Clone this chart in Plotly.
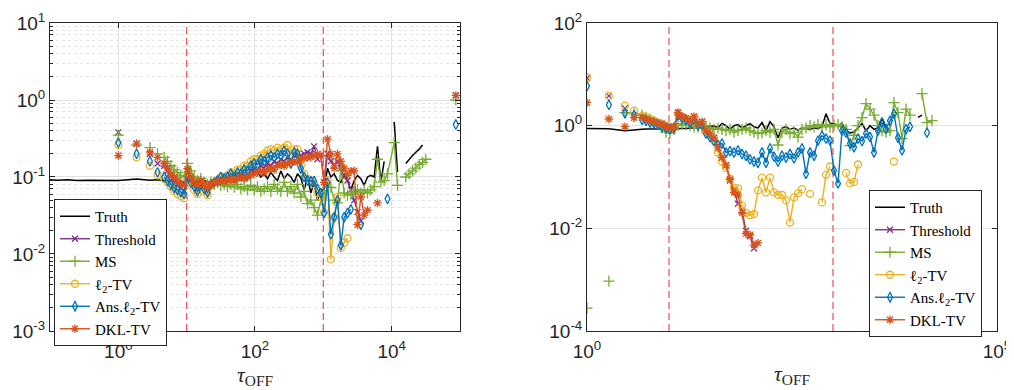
import plotly.graph_objects as go

_ = None

# shared tau_OFF sample positions
X = [1, 1.85, 2.9, 3.75, 4.69, 5.24, 5.87, 6.56, 7.34, 8.21,
     9.19, 10.28, 11.5, 12.88, 14.4, 16.1, 18.0, 20.2, 22.6, 25.3,
     28.3, 31.6, 35.4, 39.6, 44.3, 49.6, 55.4, 62.0, 69.4, 77.7,
     86.9, 97.2, 108.8, 121.7, 136.2, 152.4, 170.5, 190.8, 213.5, 238.8,
     267.3, 299, 334.6, 374.4, 418.8, 468.6, 524.3, 586.7, 656.4, 734.5,
     821.5, 919.2, 1028, 1151, 1288, 1441, 1612, 1804, 2018, 2258,
     2526, 2827, 3162, 3538, 3959, 4430, 4956, 5545, 6204, 6942,
     7767, 8690, 10890, 12170, 14000, 16110, 18000, 20200, 22600, 25300,
     28300, 31600, 86900]

# ---------------- left panel ----------------
TRUTH_PRE_X = [0.1, 0.13, 0.18, 0.25, 0.35, 0.5, 0.7]
TRUTH_PRE_L = [0.092, 0.091, 0.092, 0.09, 0.091, 0.09, 0.089]
TRUTH_L = [0.09, 0.094, 0.091, 0.092, 0.09, 0.088, 0.089, 0.087, 0.088, 0.086,
           0.085, 0.087, 0.09, 0.088, 0.087, 0.089, 0.09, 0.086, 0.085, 0.088,
           0.09, 0.092, 0.095, 0.1, 0.098, 0.105, 0.1, 0.11, 0.105, 0.095,
           0.1, 0.12, 0.115, 0.1, 0.11, 0.095, 0.115, 0.1, 0.09, 0.12,
           0.095, 0.11, 0.1, 0.085, 0.11, 0.097, 0.068, 0.1, 0.062, 0.085,
           0.05, 0.065, 0.07, 0.13, 0.1, 0.11, 0.09, 0.085, 0.11, 0.09,
           0.068, 0.09, 0.105, 0.095, 0.078, 0.1, 0.105, 0.1, 0.25, 0.085,
           0.16, _, 0.52, 0.116, _, 0.15, 0.17, 0.19, 0.21, 0.23,
           0.26, _, _]
THR_L = [0.38, 0.27, 0.2, 0.15, 0.14, 0.12, 0.1, 0.09, 0.08, 0.072,
         0.065, 0.12, 0.09, 0.08, 0.07, 0.085, 0.075, 0.068, 0.08, 0.085,
         0.09, 0.092, 0.095, 0.09, 0.1, 0.095, 0.1, 0.105, 0.1, 0.11,
         0.12, 0.125, 0.12, 0.14, 0.13, 0.15, 0.14, 0.16, 0.15, 0.17,
         0.16, 0.18, 0.17, 0.19, 0.2, 0.19, 0.2, 0.21, 0.2, 0.25,
         0.17, 0.19, 0.086, 0.2, 0.16, 0.14, 0.16, 0.13, 0.1, 0.09,
         0.068, 0.05, 0.035, 0.027, _, _, _, _, _, _,
         _, _, _, _, _, _, _, _, _, _,
         _, _, 1.15]
MS_L = [0.35, 0.26, 0.24, 0.2, 0.18, 0.16, 0.14, 0.125, 0.115, 0.105,
        0.1, 0.15, 0.12, 0.1, 0.09, 0.095, 0.085, 0.08, 0.085, 0.08,
        0.085, 0.078, 0.08, 0.075, 0.08, 0.074, 0.08, 0.07, 0.075, 0.068,
        0.078, 0.068, 0.075, 0.065, 0.07, 0.075, 0.065, 0.08, 0.07, 0.065,
        0.085, 0.065, 0.075, 0.062, 0.08, 0.055, 0.065, 0.045, 0.05, 0.04,
        0.032, 0.05, 0.06, 0.074, 0.073, 0.05, 0.046, 0.13, 0.062, 0.058,
        0.06, 0.065, 0.068, 0.062, 0.068, 0.062, 0.068, 0.075, 0.17, 0.086,
        0.09, 0.11, 0.28, 0.078, _, 0.1, 0.11, 0.12, 0.13, 0.145,
        0.155, 0.17, 1.0]
L2_L = [0.26, 0.18, 0.14, 0.105, 0.095, 0.085, 0.075, 0.066, 0.06, 0.056,
        0.053, 0.095, 0.08, 0.068, 0.06, 0.075, 0.065, 0.058, 0.078, 0.085,
        0.09, 0.1, 0.1, 0.105, 0.115, 0.11, 0.125, 0.125, 0.14, 0.14,
        0.16, 0.17, 0.17, 0.19, 0.2, 0.22, 0.23, 0.22, 0.24, 0.23,
        0.24, 0.26, 0.2, 0.23, 0.23, 0.14, 0.11, 0.095, 0.09, 0.08,
        0.062, 0.055, 0.035, 0.09, 0.0085, 0.03, 0.055, 0.012, 0.014, 0.016,
        _, _, _, _, _, _, _, _, _, _,
        _, _, _, _, _, _, _, _, _, _,
        _, _, _]
ANS_L = [0.28, 0.2, 0.16, 0.115, 0.1, 0.09, 0.08, 0.072, 0.068, 0.064,
         0.06, 0.1, 0.085, 0.075, 0.065, 0.08, 0.07, 0.063, 0.08, 0.085,
         0.09, 0.1, 0.095, 0.1, 0.11, 0.1, 0.115, 0.11, 0.125, 0.12,
         0.14, 0.15, 0.145, 0.17, 0.16, 0.18, 0.19, 0.18, 0.2, 0.19,
         0.22, 0.2, 0.15, 0.21, 0.2, 0.13, 0.1, 0.09, 0.088, 0.088,
         0.07, 0.062, 0.034, 0.084, 0.018, 0.03, 0.05, 0.013, 0.03, 0.034,
         0.038, _, _, 0.024, _, _, _, _, _, _,
         _, 0.052, _, _, _, _, _, _, _, _,
         _, _, 0.48]
DKL_L = [0.19, 0.27, 0.21, 0.18, 0.15, 0.13, 0.11, 0.1, 0.09, 0.082,
         0.078, 0.127, 0.1, 0.085, 0.08, 0.09, 0.08, 0.072, 0.08, 0.085,
         0.085, 0.09, 0.088, 0.09, 0.095, 0.09, 0.095, 0.1, 0.095, 0.1,
         0.105, 0.11, 0.115, 0.12, 0.115, 0.125, 0.13, 0.125, 0.14, 0.145,
         0.14, 0.15, 0.155, 0.16, 0.155, 0.17, 0.175, 0.18, 0.18, 0.19,
         0.2, 0.19, 0.085, 0.31, 0.2, 0.13, 0.2, 0.16, 0.13, 0.105,
         0.12, 0.12, 0.024, 0.055, 0.032, 0.037, _, _, 0.046, _,
         _, _, _, _, _, _, _, _, _, _,
         _, _, 1.15]

# ---------------- right panel ----------------
TRUTH_R = [0.88, 0.87, 0.8, 0.84, 0.85, 0.86, 0.86, 0.85, 0.86, 0.86,
           0.87, 0.86, 0.87, 0.88, 0.87, 0.88, 0.9, 0.9, 0.92, 0.95,
           0.97, 0.96, 0.98, 0.92, 1.1, 1.0, 0.85, 1.0, 1.05, 0.9,
           1.0, 1.1, 0.95, 0.9, 1.15, 0.8, 1.2, 0.95, 0.58, 0.9,
           0.95, 0.85, 0.9, 0.82, 0.9, 0.88, 0.85, 0.9, 0.88, 0.95,
           1.7, 1.1, 1.1, 1.0, 1.1, 0.8, 0.72, 0.75, 0.9, 1.1,
           0.8, 1.0, 0.85, 0.9, 1.4, 0.9, 0.75, _, _, _,
           _, _, 1.45, 1.6, _, _, _, _, _, _,
           _, _, _]
THR_R = [8.5, 3.8, 2.2, 1.6, 1.5, 1.4, 1.3, 1.2, 1.15, 1.1,
         1.0, 0.95, 0.95, 1.8, 1.5, 1.4, 1.25, 1.5, 1.1, 1.2,
         0.8, 0.7, 0.58, 0.37, 0.24, 0.17, 0.085, 0.055, 0.03, 0.022,
         0.009, 0.007, 0.0041, _, _, _, _, _, _, _,
         _, _, _, _, _, _, _, _, _, _,
         _, _, _, _, _, _, _, _, _, _,
         _, _, _, _, _, _, _, _, _, _,
         _, _, _, _, _, _, _, _, _, _,
         _, _, _]
MS_R = [0.00028, 0.00094, 1.8, 1.7, 1.6, 1.45, 1.35, 1.2, 1.05, 0.9,
        0.75, 0.72, 0.85, 1.0, 1.1, 1.05, 1.0, 0.95, 0.95, 0.9,
        0.95, 0.9, 0.85, 0.9, 0.85, 0.8, 0.85, 0.75, 0.8, 0.85,
        0.9, 0.8, 0.75, 0.7, 0.72, 0.8, 0.75, 0.85, 0.42, 0.75,
        0.85, 0.7, 0.75, 0.6, 0.85, 0.9, 1.0, 0.95, 1.05, 0.95,
        1.05, 0.95, 1.0, 1.05, 0.95, 0.85, 0.41, 0.65, 1.0, 1.43,
        2.7, 2.1, 1.6, 1.0, 0.8, 0.75, 0.8, 2.8, 1.8, 0.56,
        2.1, 1.6, _, 4.2, 1.15, 1.25, _, _, _, _,
        _, _, _]
L2_R = [8.8, 3.8, 2.45, 1.96, 1.55, 1.45, 1.35, 1.25, 1.15, 1.1,
        1.0, 0.95, 0.95, 1.75, 1.5, 1.35, 1.2, 1.45, 1.05, 1.1,
        0.75, 0.65, 0.5, 0.3, 0.2, 0.15, 0.093, 0.062, 0.06, 0.028,
        0.02, 0.018, 0.019, 0.055, 0.097, 0.05, 0.097, 0.05, 0.045, 0.045,
        0.035, 0.013, 0.04, 0.048, 0.058, _, 0.047, _, _, 0.032,
        0.11, 0.16, _, _, _, 0.12, 0.075, 0.08, 0.175, _,
        _, _, _, _, _, _, _, 0.2, _, _,
        _, _, _, _, _, _, _, _, _, _,
        _, _, _]
ANS_R = [5.9, 2.55, 1.75, 1.6, 1.3, 1.25, 1.15, 1.1, 1.05, 0.95,
         0.9, 0.85, 0.9, 1.6, 1.4, 1.3, 1.15, 1.3, 1.0, 1.05,
         0.7, 0.6, 0.5, 0.42, 0.45, 0.3, 0.32, 0.3, 0.33, 0.28,
         0.26, 0.22, 0.2, 0.19, 0.3, 0.19, 0.36, 0.25, 0.2, 0.26,
         0.24, 0.28, 0.23, 0.3, 0.36, 0.116, 0.3, 0.26, 0.51, 0.64,
         0.56, 0.51, 0.134, 0.075, 0.8, 0.73, 0.45, 0.38, 0.56, 0.5,
         0.7, 0.6, 0.3, 0.8, 1.15, 0.87, 1.25, 1.7, 0.58, 0.33,
         0.85, 0.95, _, _, 0.73, _, _, _, _, _,
         _, _, _]
DKL_R = [2.8, 1.35, 0.96, 1.43, 1.45, 1.35, 1.25, 1.2, 1.1, 1.05,
         0.95, 0.9, 0.95, 1.8, 1.5, 1.4, 1.25, 1.5, 1.1, 1.2,
         0.8, 0.7, 0.58, 0.37, 0.24, 0.17, 0.09, 0.05, 0.045, 0.02,
         0.0078, 0.0075, 0.0047, 0.0052, _, _, _, _, _, _,
         _, _, _, _, _, _, _, _, _, _,
         _, _, _, _, _, _, _, _, _, _,
         _, _, _, _, _, _, _, _, _, _,
         _, _, _, _, _, _, _, _, _, _,
         _, _, _]

MARKS = [10, 1000]          # dashed reference lines (tau_OFF)
N_ISO = 4                   # first samples are unconnected; last one too

NAMES = ["Threshold", "MS", "ℓ<sub>2</sub>-TV", "Ans.ℓ<sub>2</sub>-TV", "DKL-TV"]
STY = [
    dict(color="#7E2F8E", symbol="x-thin", size=6),
    dict(color="#77AC30", symbol="cross-thin", size=8),
    dict(color="#EDB120", symbol="circle-open", size=7),
    dict(color="#0072BD", symbol="diamond-tall-open", size=7),
    dict(color="#D95319", symbol="asterisk", size=7),
]

fig = go.Figure()


def iso_split(xv, yv):
    xs, ys = [], []
    last = len(xv) - 1
    for i, (a, b) in enumerate(zip(xv, yv)):
        if i == last:
            xs.append(a)
            ys.append(None)
        xs.append(a)
        ys.append(b)
        if i < N_ISO:
            xs.append(a)
            ys.append(None)
    return xs, ys


def add_panel(xa, ya, leg, yr, truth_x, truth_y, series):
    for m in MARKS:
        fig.add_trace(go.Scatter(x=[m, m], y=[10 ** yr[0], 10 ** yr[1]], mode="lines",
                                 line=dict(color="rgba(240,60,60,0.9)", width=1.2, dash="7px,4px"),
                                 showlegend=False, hoverinfo="skip", xaxis=xa, yaxis=ya))
    fig.add_trace(go.Scatter(x=truth_x, y=truth_y, mode="lines", name="Truth",
                             line=dict(color="black", width=1.5), connectgaps=False,
                             xaxis=xa, yaxis=ya, legend=leg))
    for name, st, yv in zip(NAMES, STY, series):
        xs, ys = iso_split(X, yv)
        fig.add_trace(go.Scatter(
            x=xs, y=ys, mode="lines+markers", name=name, connectgaps=False,
            line=dict(color=st["color"], width=1.4),
            marker=dict(symbol=st["symbol"], size=st["size"], color=st["color"],
                        line=dict(color=st["color"], width=1.3)),
            xaxis=xa, yaxis=ya, legend=leg))


add_panel("x", "y", "legend", [-3, 1], TRUTH_PRE_X + X, TRUTH_PRE_L + TRUTH_L,
          [THR_L, MS_L, L2_L, ANS_L, DKL_L])
add_panel("x2", "y2", "legend2", [-4, 2], X, TRUTH_R,
          [THR_R, MS_R, L2_R, ANS_R, DKL_R])


def pw(e):
    return "10<sup>%d</sup>" % e


AX = "#262626"
TICKFONT = dict(family="Liberation Sans, Arial, sans-serif", size=19, color=AX)
TITLEFONT = dict(family="Liberation Serif, Times New Roman, serif", size=22, color=AX)
LEGFONT = dict(family="Liberation Serif, Times New Roman, serif", size=15, color="black")
base = dict(type="log", showline=True, linecolor=AX, linewidth=1, mirror="allticks",
            ticks="inside", ticklen=5, tickcolor=AX, zeroline=False, tickfont=TICKFONT,
            automargin=False)

minor_y = [k * 10 ** e for e in range(-3, 1) for k in range(2, 10)]

# page body adds an 8px offset; width kept full so the last tick label is not clipped
W, H = 1014, 382
fig.update_layout(
    width=W, height=H, margin=dict(l=0, r=0, t=0, b=0),
    paper_bgcolor="white", plot_bgcolor="white", showlegend=True,
    xaxis=dict(base, domain=[0.04142, 0.44576], range=[-1, 5],
               tickvals=[1, 100, 10000], ticktext=[pw(0), pw(2), pw(4)],
               showgrid=True, gridcolor="#e3e3e3", anchor="y", ticklabelstandoff=3,
               title=dict(text="<i>τ</i><sub>OFF</sub>", font=TITLEFONT, standoff=4)),
    yaxis=dict(base, domain=[0.1545, 0.9607], range=[-3, 1],
               tickvals=[1e-3, 1e-2, 1e-1, 1, 10], ticktext=[pw(-3), pw(-2), pw(-1), pw(0), pw(1)],
               showgrid=True, gridcolor="#e3e3e3", anchor="x",
               minor=dict(tickvals=minor_y, ticks="inside", ticklen=3, tickcolor=AX,
                          showgrid=True, gridcolor="#e4e4e4", griddash="dot")),
    xaxis2=dict(base, domain=[0.57101, 0.97535], range=[0, 5],
                tickvals=[1, 1e5], ticktext=[pw(0), pw(5)],
                showgrid=False, anchor="y2", ticklabelstandoff=3,
                title=dict(text="<i>τ</i><sub>OFF</sub>", font=TITLEFONT, standoff=4)),
    yaxis2=dict(base, domain=[0.1545, 0.9607], range=[-4, 2],
                tickvals=[1e-4, 1e-2, 1, 100], ticktext=[pw(-4), pw(-2), pw(0), pw(2)],
                showgrid=True, gridcolor="#e3e3e3", anchor="x2"),
    legend=dict(x=0.04536, y=0.5, xanchor="left", yanchor="top", bgcolor="white",
                bordercolor=AX, borderwidth=1, tracegroupgap=0, font=LEGFONT),
    legend2=dict(x=0.84911, y=0.5236, xanchor="left", yanchor="top", bgcolor="white",
                 bordercolor=AX, borderwidth=1, tracegroupgap=0, font=LEGFONT),
)

fig.write_html("out.html")
